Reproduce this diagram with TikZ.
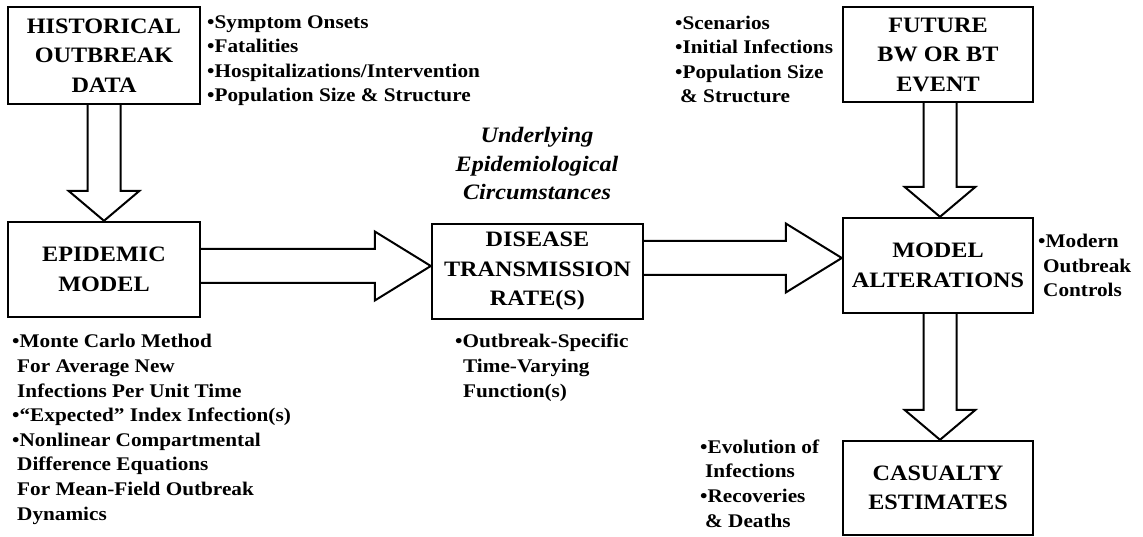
\documentclass[tikz,border=0pt]{standalone}
\usepackage{fontspec}
\setmainfont{Liberation Serif}[FakeStretch=1.1]
\usetikzlibrary{positioning,calc}
\tikzstyle{block} = [rectangle, draw, line width=2.4pt, inner sep=0pt, align=center,
 minimum width=190pt, minimum height=95pt, font=\fontsize{22}{29.5}\selectfont\bfseries]
% anchor sits on the baseline of the last line
\tikzstyle{notes} = [inner sep=0pt, align=left, anchor=base west,
 font=\fontsize{19.3}{24.6}\selectfont\bfseries]
\tikzstyle{fat} = [draw, line width=2pt, line join=miter, fill=white]

% hollow block arrows, shaft from #1, tip at #2
\newcommand{\fatdown}[2]{\draw[fat] let \p1=#1, \p2=#2 in
 (\x2-16.5,\y1) -- (\x2-16.5,\y2+30) -- (\x2-35.5,\y2+30) -- (\x2,\y2)
 -- (\x2+35.5,\y2+30) -- (\x2+16.5,\y2+30) -- (\x2+16.5,\y1);}
\newcommand{\fatright}[2]{\draw[fat] let \p1=#1, \p2=#2 in
 (\x1,\y1+17) -- (\x2-56,\y1+17) -- (\x2-56,\y1+34.5) -- (\x2,\y1)
 -- (\x2-56,\y1-34.5) -- (\x2-56,\y1-17) -- (\x1,\y1-17);}

\begin{document}
\begin{tikzpicture}[x=1pt,y=1pt]
        \useasboundingbox (0,0) rectangle (1143,-537);

        \node[block, minimum width=192pt, minimum height=97pt] (hist) at (104,-55.5) {HISTORICAL\\OUTBREAK\\DATA};
        \node[block, minimum width=192pt] (epid) at (104,-269.5) {EPIDEMIC\\MODEL};
        \node[block, minimum width=211pt] (rate) at (537.5,-271.5) {DISEASE\\TRANSMISSION\\RATE(S)};
        \node[block] (futr) at (938,-54.5) {FUTURE\\BW OR BT\\EVENT};
        \node[block] (altr) at (938,-265.5) {MODEL\\ALTERATIONS};
        \node[block, minimum height=94pt] (cslt) at (938,-488) {CASUALTY\\ESTIMATES};

        % notes beside the boxes
        \node[notes] (histnt) at (207,-102) {•Symptom Onsets\\•Fatalities\\•Hospitalizations/Intervention\\•Population Size \& Structure};
        \node[notes] (futrnt) at (675,-103) {•Scenarios\\•Initial Infections\\•Population Size\\\hspace{5pt}\& Structure};
        \node[notes, align=center, anchor=base, font=\fontsize{22}{28.5}\selectfont\bfseries\itshape]
           (circ) at (537,-200) {Underlying\\Epidemiological\\Circumstances};
        \node[notes] (epidnt) at (12,-520) {•Monte Carlo Method\\\hspace{5pt}For Average New\\\hspace{5pt}Infections Per Unit Time\\•“Expected” Index Infection(s)\\•Nonlinear Compartmental\\\hspace{5pt}Difference Equations\\\hspace{5pt}For Mean-Field Outbreak\\\hspace{5pt}Dynamics};
        \node[notes] (ratent) at (455,-397) {•Outbreak-Specific\\\hspace{8pt}Time-Varying\\\hspace{8pt}Function(s)};
        \node[notes] (altrnt) at (1038,-297) {•Modern\\\hspace{5pt}Outbreak\\\hspace{5pt}Controls};
        \node[notes] (csltnt) at (700,-527) {•Evolution of\\\hspace{5pt}Infections\\•Recoveries\\\hspace{5pt}\& Deaths};

        \fatdown{(hist.south)}{(epid.north)}
        \fatright{($(epid.east)+(0,3.5)$)}{(rate.west)}
        \fatright{($(rate.east)+(0,13.5)$)}{(altr.west)}
        \fatdown{(futr.south)}{($(altr.north)+(2,0)$)}
        \fatdown{(altr.south)}{($(cslt.north)+(2,0)$)}
\end{tikzpicture}
\end{document}
